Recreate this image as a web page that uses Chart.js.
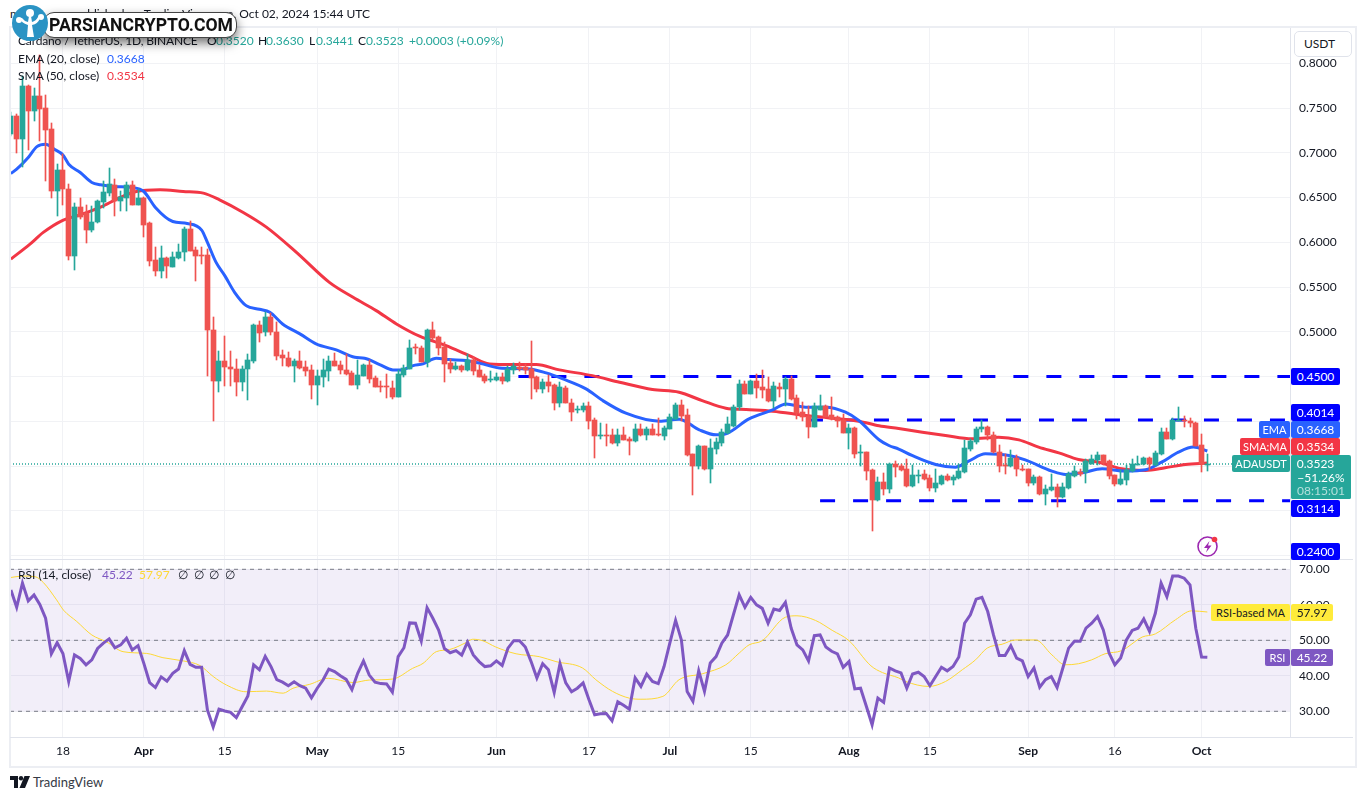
<!DOCTYPE html>
<html>
<head>
<meta charset="utf-8">
<title>ADAUSDT</title>
<script src="https://cdn.jsdelivr.net/npm/chart.js@4"></script>
<style>
  html, body { margin: 0; padding: 0; background: #fff; width: 1366px; height: 800px; overflow: hidden; }
  canvas { position: absolute; left: 10px; }
  #priceChart { top: 27px; }
  #rsiChart { top: 560px; }
  .t { position: absolute; white-space: nowrap; font: 12px/16px Lato, sans-serif; color: #131722; z-index: 3; }
  .box { position: absolute; text-align: center; white-space: nowrap; font: 12px/17px Lato, sans-serif; z-index: 4; }
  .line { position: absolute; background: #e0e3eb; z-index: 2; }
  #frame { position: absolute; left: 9px; top: 26px; width: 1344px; height: 738px; border: 2px solid #eceef3; z-index: 1; }
  #unit { position: absolute; left: 1294px; top: 31px; width: 56px; height: 24px; border: 1px solid #e0e3eb; border-radius: 5px;
          background: #fff; font: 12px/24px Lato, sans-serif; color: #131722; z-index: 4; text-indent: 9px; }
  #badge { position: absolute; left: 43px; top: 12px; width: 192px; height: 24px; border: 1px solid #444; border-radius: 11px;
           background: #fff; box-shadow: 0 5px 11px rgba(0,0,0,.55); z-index: 5;
           font: bold 17.6px/25px Roboto, sans-serif; color: #111; text-indent: 5px; overflow: hidden; }
  #badgeIcon { position: absolute; left: 11px; top: 4px; z-index: 6; }
  #spark { position: absolute; left: 1195px; top: 534px; z-index: 3; }
  #tvLogo { position: absolute; left: 10px; top: 776px; z-index: 3; }
</style>
</head>
<body>
<div id="frame"></div>
<canvas id="priceChart" width="1345" height="532"></canvas>
<canvas id="rsiChart" width="1345" height="205"></canvas>
<div id="unit">USDT</div>
<div id="badge">PARSIANCRYPTO.COM</div>
<svg id="badgeIcon" width="38" height="38" viewBox="0 0 38 38">
  <circle cx="19" cy="19" r="18" fill="#2a93c4"/>
  <path d="M16 33 L17 21 Q10 19 9 14 L11 14 Q13 17 17 18 L18 12 L20 12 L21 18 Q25 17 27 13 L29 14 Q27 20 21 21 L23 33 Z" fill="#fff"/>
  <circle cx="19" cy="9" r="4" fill="#fff"/><circle cx="8" cy="16" r="3" fill="#fff"/><circle cx="30" cy="13" r="3" fill="#fff"/>
</svg>
<svg id="spark" width="26" height="26" viewBox="0 0 26 26">
  <circle cx="12.5" cy="12.5" r="9.5" fill="none" stroke="#9c27b0" stroke-width="1.6"/>
  <path d="M14.5 7 L9 14 L12.5 14 L11 18.5 L16.5 11.5 L13 11.5 Z" fill="#9c27b0"/>
  <circle cx="19.5" cy="5.5" r="2.8" fill="#f23645"/>
</svg>
<svg id="tvLogo" width="22" height="13" viewBox="0 0 22 13">
  <path d="M0 0 H8 V12 H4 V4 H0 Z M14.5 0 H20 L15 12 H9.5 Z" fill="#131722"/><circle cx="11" cy="2.2" r="2.2" fill="#131722"/>
</svg>

<script>
  // Cardano / TetherUS daily bars, index 0 = Mar 9 2024, index 207 = Oct 2 2024
  const opens = [
    .7208,.7413,.7160,.7747,.7468,.7636,.7502,.7264,.6576,.6810,
    .6594,.5850,.6397,.6323,.6140,.6222,.6453,.6550,.6643,.6464,
    .6501,.6639,.6419,.6501,.6211,.5802,.5683,.5828,.5727,.5824,
    .5887,.6148,.5917,.5862,.5862,.5025,.4448,.4679,.4612,.4590,
    .4437,.4582,.4679,.5081,.4995,.5170,.5003,.4746,.4712,.4623,
    .4679,.4612,.4579,.4411,.4500,.4567,.4679,.4634,.4579,.4541,
    .4411,.4512,.4634,.4489,.4391,.4391,.4378,.4277,.4523,.4590,
    .4826,.4824,.4668,.5025,.4947,.4835,.4657,.4590,.4623,.4579,
    .4690,.4579,.4512,.4472,.4467,.4500,.4456,.4579,.4612,.4605,
    .4590,.4500,.4366,.4445,.4411,.4210,.4378,.4210,.4130,.4132,
    .4177,.4020,.3847,.3851,.3853,.3753,.3853,.3808,.3775,.3920,
    .3842,.3920,.3864,.3831,.3920,.4031,.4188,.4076,.3630,.3496,
    .3719,.3462,.3686,.3753,.3875,.3953,.4165,.4422,.4310,.4456,
    .4389,.4366,.4232,.4389,.4366,.4478,.4266,.4110,.4065,.3942,
    .4132,.4177,.4076,.4043,.4020,.3875,.3931,.3650,.3652,.3451,
    .3116,.3317,.3239,.3518,.3496,.3462,.3273,.3401,.3407,.3362,
    .3250,.3295,.3384,.3340,.3362,.3429,.3686,.3764,.3909,.3942,
    .3853,.3663,.3507,.3496,.3585,.3473,.3462,.3306,.3373,.3183,
    .3228,.3261,.3150,.3250,.3384,.3433,.3429,.3529,.3563,.3619,
    .3552,.3395,.3295,.3340,.3440,.3516,.3518,.3596,.3507,.3630,
    .3886,.3808,.4009,.4017,.4009,.3987,.3741,.3520
  ];
  const highs = [
    .7457,.7431,.7859,.7760,.7721,.8093,.7643,.7338,.6873,.6985,
    .6650,.6445,.6490,.6419,.6408,.6475,.6687,.6836,.6706,.6576,
    .6669,.6687,.6594,.6505,.6222,.5943,.5962,.5832,.5887,.5980,
    .6166,.6241,.5943,.5951,.5925,.5170,.4783,.4958,.4791,.4698,
    .4616,.4753,.5085,.5125,.5218,.5207,.5114,.4798,.4772,.4698,
    .4791,.4679,.4634,.4575,.4698,.4735,.4764,.4679,.4753,.4567,
    .4690,.4642,.4686,.4512,.4456,.4530,.4456,.4575,.4634,.4913,
    .4865,.4846,.5032,.5114,.4958,.4884,.4698,.4660,.4634,.4753,
    .4716,.4634,.4530,.4567,.4538,.4541,.4623,.4657,.4660,.4642,
    .4902,.4504,.4474,.4523,.4415,.4437,.4400,.4251,.4166,.4203,
    .4221,.4035,.3987,.3972,.3916,.3920,.3942,.3823,.3972,.3972,
    .3942,.3972,.4039,.3953,.4084,.4206,.4244,.4139,.3634,.3741,
    .3723,.3805,.3816,.3909,.4054,.4188,.4467,.4456,.4467,.4530,
    .4578,.4500,.4437,.4430,.4500,.4511,.4299,.4221,.4177,.4210,
    .4299,.4181,.4277,.4065,.4084,.3965,.3942,.3741,.3656,.3462,
    .3373,.3421,.3540,.3552,.3518,.3574,.3507,.3459,.3459,.3395,
    .3462,.3395,.3407,.3395,.3518,.3786,.3805,.3935,.4020,.3953,
    .3886,.3741,.3637,.3682,.3626,.3507,.3466,.3395,.3384,.3284,
    .3407,.3295,.3310,.3433,.3496,.3462,.3581,.3619,.3652,.3623,
    .3563,.3399,.3451,.3507,.3574,.3615,.3607,.3600,.3674,.3927,
    .3924,.4039,.4165,.4065,.4039,.3991,.3864,.3630
  ];
  const lows = [
    .7190,.7003,.6847,.7033,.7357,.7134,.6687,.6501,.6289,.6419,
    .5806,.5694,.6259,.5988,.6111,.6215,.6382,.6520,.6297,.6352,
    .6352,.6415,.6415,.6055,.5731,.5627,.5597,.5597,.5720,.5813,
    .5794,.5902,.5571,.5757,.4504,.4002,.4333,.4400,.4400,.4281,
    .4344,.4233,.4649,.4884,.4951,.4969,.4690,.4623,.4605,.4445,
    .4586,.4512,.4255,.4188,.4389,.4456,.4616,.4530,.4523,.4405,
    .4366,.4508,.4433,.4385,.4333,.4259,.4251,.4270,.4493,.4586,
    .4753,.4660,.4612,.4910,.4746,.4445,.4541,.4579,.4556,.4567,
    .4523,.4496,.4433,.4445,.4456,.4419,.4445,.4530,.4567,.4530,
    .4255,.4333,.4322,.4333,.4132,.4158,.4203,.4009,.4091,.4102,
    .3909,.3585,.3805,.3730,.3749,.3719,.3786,.3619,.3771,.3831,
    .3786,.3842,.3831,.3797,.3916,.4020,.4009,.3615,.3172,.3473,
    .3451,.3306,.3630,.3719,.3860,.3942,.4128,.4307,.4307,.4262,
    .4262,.4221,.4147,.4277,.4177,.4244,.4031,.4009,.3819,.3938,
    .4130,.4046,.4020,.3942,.3871,.3686,.3585,.3496,.3340,.2770,
    .3112,.3172,.3194,.3373,.3448,.3270,.3270,.3310,.3340,.3217,
    .3206,.3284,.3338,.3288,.3360,.3427,.3674,.3749,.3883,.3786,
    .3650,.3429,.3414,.3494,.3384,.3447,.3273,.3291,.3180,.3061,
    .3221,.3038,.3148,.3248,.3382,.3384,.3306,.3518,.3507,.3507,
    .3351,.3273,.3293,.3284,.3438,.3507,.3516,.3451,.3496,.3628,
    .3805,.3793,.4007,.3935,.3942,.3728,.3429,.3441
  ];
  const closes = [
    .7413,.7160,.7747,.7468,.7636,.7494,.7256,.6576,.6810,.6594,
    .5850,.6397,.6278,.6140,.6230,.6464,.6564,.6650,.6464,.6512,
    .6639,.6419,.6494,.6196,.5794,.5683,.5828,.5731,.5839,.5895,
    .6148,.5906,.5850,.5856,.5021,.4448,.4679,.4605,.4582,.4437,
    .4590,.4690,.5081,.4984,.5170,.4995,.4735,.4705,.4623,.4679,
    .4601,.4567,.4411,.4512,.4579,.4679,.4623,.4579,.4534,.4411,
    .4523,.4634,.4478,.4389,.4387,.4387,.4277,.4534,.4597,.4824,
    .4822,.4668,.5025,.4936,.4824,.4646,.4590,.4623,.4579,.4690,
    .4567,.4500,.4456,.4476,.4500,.4456,.4590,.4623,.4590,.4579,
    .4482,.4366,.4445,.4400,.4210,.4389,.4210,.4110,.4134,.4177,
    .4009,.3831,.3851,.3847,.3753,.3853,.3797,.3775,.3920,.3842,
    .3920,.3853,.3842,.3931,.4043,.4188,.4065,.3619,.3496,.3719,
    .3462,.3697,.3764,.3886,.3965,.4165,.4422,.4310,.4456,.4377,
    .4355,.4232,.4400,.4366,.4478,.4251,.4098,.4054,.3942,.4177,
    .4177,.4054,.4031,.4009,.3875,.3931,.3630,.3654,.3440,.3116,
    .3317,.3239,.3518,.3485,.3451,.3273,.3395,.3405,.3351,.3250,
    .3306,.3384,.3340,.3373,.3440,.3697,.3775,.3920,.3942,.3842,
    .3652,.3496,.3503,.3585,.3462,.3451,.3306,.3373,.3183,.3239,
    .3261,.3150,.3261,.3407,.3440,.3414,.3552,.3574,.3619,.3540,
    .3384,.3295,.3351,.3451,.3518,.3520,.3596,.3518,.3641,.3886,
    .3808,.4020,.4020,.4009,.3976,.3730,.3520,.3523
  ];

  const emaDays = [
    0,1,3,4.5,6,7.5,9,10,12,14,
    15.5,18,21,23,25,28,30.5,33,34,35.5,
    37,38.7,40.7,43,44.8,47,50,52.8,56.3,59.5,
    61.2,63.8,66.1,67.5,69.6,71.3,73.6,75.9,78.8,82.2,
    84.5,89.7,92.6,95.5,99.5,102.4,106.4,112.2,115.6,119.1,
    122,123.7,127.7,131.8,134.1,137.5,141,144.4,146.7,150.2,
    151.9,153.6,155.9,160,163.4,165.7,168.6,172.7,175.5,180.1,
    182.5,185.3,188.8,192.8,196.3,199.1,202,204.6,207
  ];
  const emaValues = [
    .6769,.6817,.6948,.7070,.7096,.7041,.6977,.6873,.6780,.6669,
    .6643,.6624,.6613,.6568,.6390,.6233,.6211,.6137,.5999,.5776,
    .5628,.5442,.5293,.5252,.5218,.5088,.4977,.4865,.4798,.4716,
    .4705,.4634,.4575,.4575,.4623,.4642,.4705,.4690,.4679,.4631,
    .4597,.4586,.4541,.4474,.4363,.4232,.4091,.4002,.4024,.3905,
    .3849,.3860,.4028,.4128,.4195,.4158,.4158,.4102,.4009,.3795,
    .3730,.3690,.3619,.3518,.3488,.3555,.3637,.3619,.3570,.3444,
    .3407,.3425,.3470,.3444,.3459,.3544,.3656,.3712,.3668
  ];
  const smaDays = [
    0,3.3,5.6,8.8,12,15.4,18.9,21.7,25.8,29.8,
    33.3,36.1,40.2,44.2,49.4,55.1,59.2,63.2,66.7,70.7,
    75.3,79.3,82.8,86.8,90.9,94.9,100.6,105.3,111,115.6,
    119.6,123.7,127.2,131.8,137.5,142.1,146.7,150.2,153.6,157.7,
    161.7,166.3,170.9,174.4,177.8,181.3,184.7,188.2,192.2,196.3,
    199.7,203.2,207
  ];
  const smaValues = [
    .5813,.5980,.6111,.6241,.6308,.6390,.6501,.6568,.6587,.6568,
    .6550,.6475,.6334,.6170,.5888,.5553,.5386,.5237,.5088,.4951,
    .4846,.4735,.4642,.4634,.4634,.4575,.4511,.4437,.4355,.4325,
    .4232,.4147,.4132,.4113,.4065,.4035,.4002,.3950,.3920,.3879,
    .3842,.3805,.3823,.3793,.3712,.3648,.3574,.3544,.3470,.3451,
    .3481,.3518,.3534
  ];

  // RSI (14), one value per bar
  const rsiValues = [
    64.2,59.3,66.1,61.1,62.8,60.1,56.2,46.2,49.3,46.3,
    38.4,45.9,44.9,43.1,44.5,47.7,49.2,50.4,47.9,48.7,
    50.6,47.3,48.5,43.5,38.1,36.7,39.7,38.5,40.7,41.9,
    47.1,43.2,42.4,42.4,30.4,25.6,30.6,30.1,29.7,28.2,
    31.3,34.3,43.1,41.7,45.5,42.6,38.9,38.2,37.2,38.3,
    37.2,36.5,33.8,36.5,38.8,41.9,41.2,40.0,39.0,36.1,
    40.7,44.2,40.2,38.2,37.8,37.7,35.4,45.4,47.9,54.9,
    54.8,49.8,59.2,56.2,52.9,47.7,46.5,47.1,45.8,49.5,
    45.9,44.0,42.6,42.8,44.2,42.9,47.8,49.9,49.9,48.1,
    44.0,39.4,43.4,41.7,35.3,43.4,38.0,35.5,36.5,38.0,
    33.3,29.0,29.3,29.4,27.3,32.7,31.7,30.6,39.4,37.0,
    40.5,38.4,37.8,42.6,49.2,55.6,50.1,35.6,32.8,41.4,
    35.6,43.6,45.4,49.2,51.5,57.2,62.8,59.3,62.1,60.0,
    59.0,54.8,58.8,58.4,60.7,53.4,48.7,47.3,44.2,51.3,
    51.5,48.1,46.9,46.2,42.4,44.0,36.3,36.5,31.4,26.2,
    33.7,32.5,42.2,41.4,40.8,36.5,40.5,41.0,39.8,37.2,
    39.8,42.4,41.4,42.6,45.3,54.8,57.2,61.6,62.1,58.1,
    51.5,45.7,45.7,48.5,45.0,44.2,39.8,42.2,36.8,38.9,
    39.8,36.7,42.2,47.8,49.7,49.7,53.4,54.8,56.7,52.9,
    46.4,43.1,45.0,50.1,52.8,53.4,56.0,52.5,57.6,66.1,
    62.3,68.1,68.1,67.5,65.6,53.4,45.3,45.22
  ];
  const rsiMaDays = [
    0,2.1,4.2,5.6,7.9,9.1,11.4,14,16.5,19.4,
    23.5,26.3,29.8,32.7,35,37.3,40.7,44.2,47.1,48.8,
    51.7,54.9,59.2,62,66.1,69.5,71.3,73.6,75.9,78.8,
    79.9,81.6,83.9,87.4,91.4,94.3,98.9,101.2,104.1,107,
    109,112.8,115.6,119.7,123.7,126,127.7,130,134,136,
    139.2,142.1,145,148.8,150.8,153.6,154.8,158.8,161.7,164.6,
    166.9,168.9,171.5,173.8,177.3,180.1,182.4,184.7,187,189.3,
    192.2,195.7,198,201.5,204.3,207
  ];
  const rsiMaValues = [
    67.7,68.1,67.9,66.3,61.4,58.5,55.3,51.5,49.6,46.8,
    46.3,45.1,44.2,42.9,39.8,37.4,35.5,35.7,35.1,36.5,
    37.6,39.3,38.1,38.8,39.1,42.1,43.5,46.8,47.4,49.4,
    50.3,49.9,48.1,46.2,45.4,44.0,42.2,38.9,35.6,33.7,
    33.4,34.2,38.9,40.6,43.1,46.4,48.7,49.9,56.5,56.9,
    55.6,52.8,49.9,42.8,40.9,39.4,38.4,37.0,38.4,41.7,
    44.5,47.8,48.9,50.1,50.1,45.9,43.1,43.4,44.5,46.2,
    47.1,50.9,51.8,55.8,58.3,57.97
  ];

  // support / resistance levels and the day each drawing starts
  const levelValues = [.45, .4014, .3114];
  const levelStarts = [87.8, 137.9, 140];
  const lastClose = .3523;

  const priceTicks = [.8, .75, .7, .65, .6, .55, .5, .45, .4, .35, .3, .25];
  const rsiTicks = [30, 40, 50, 60, 70];
  const rsiLevels = [70, 50, 30];
  const tickDays = [9, 23, 37, 53, 67, 84, 100, 114, 128, 145, 159, 176, 191, 206];
  const tickLabels = ["18", "Apr", "15", "May", "15", "Jun", "17", "Jul", "15", "Aug", "15", "Sep", "16", "Oct"];

  const GREEN = "#26a69a";
  const RED = "#ef5350";
  const GRID = "#f1f2f5";
  const AXIS = "#e0e3eb";
  const FONT = "Lato, sans-serif";

  // 1280px wide plot at 5.78px per day, bar 0 sits 0.9px in from the left
  const xMin = -0.156;
  const xMax = 221.3;

  const candleColors = opens.map((o, i) => (closes[i] >= o ? GREEN : RED));
  const series = (days, values) => values.map((y, i) => ({ x: days[i], y }));
  const flat = (from, y) => [{ x: from, y }, { x: xMax, y }];

  // TradingView snaps candles to whole pixels
  const snapCandles = {
    id: "snapCandles",
    beforeDatasetsDraw(chart) {
      chart.data.datasets.forEach((ds, di) => {
        if (ds.type !== "bar") return;
        chart.getDatasetMeta(di).data.forEach(el => {
          el.x = Math.floor(el.x) + 0.5;
          const top = Math.round(Math.min(el.y, el.base));
          let bottom = Math.round(Math.max(el.y, el.base));
          if (bottom <= top) bottom = top + 1;
          el.y = top;
          el.base = bottom;
        });
      });
    }
  };

  const noPadding = axis => {
    axis.paddingLeft = axis.paddingRight = axis.paddingTop = axis.paddingBottom = 0;
  };

  const xScale = extra => Object.assign({
    type: "linear",
    min: xMin,
    max: xMax,
    offset: false,
    border: { display: false },
    grid: { color: GRID, drawTicks: false, offset: false },
    afterBuildTicks: axis => { axis.ticks = tickDays.map(value => ({ value })); },
    afterFit: noPadding
  }, extra);

  const yScale = (min, max, ticks, digits) => ({
    position: "right",
    min,
    max,
    border: { display: true, color: AXIS },
    grid: { color: GRID, drawTicks: false },
    afterBuildTicks: axis => { axis.ticks = ticks.map(value => ({ value })); },
    afterFit: axis => { axis.width = 65; noPadding(axis); },
    ticks: {
      color: "#131722",
      padding: 9,
      font: { family: FONT, size: 12 },
      callback: v => v.toFixed(digits)
    }
  });

  const lineSet = (data, color, width, order, extra) => Object.assign({
    type: "line",
    data,
    borderColor: color,
    borderWidth: width,
    pointRadius: 0,
    order
  }, extra);

  new Chart(document.getElementById("priceChart").getContext("2d"), {
    data: {
      datasets: [
        {
          type: "bar",
          data: opens.map((o, i) => ({ x: i, y: [o, closes[i]] })),
          backgroundColor: candleColors,
          barThickness: 5,
          grouped: false,
          order: 0
        },
        {
          type: "bar",
          data: opens.map((o, i) => ({ x: i, y: [lows[i], highs[i]] })),
          backgroundColor: candleColors,
          barThickness: 1,
          grouped: false,
          order: 1
        },
        lineSet(series(emaDays, emaValues), "#2962ff", 3, 2, { cubicInterpolationMode: "monotone" }),
        lineSet(series(smaDays, smaValues), "#f23645", 3, 3, { cubicInterpolationMode: "monotone" }),
        ...levelValues.map((v, i) =>
          lineSet(flat(levelStarts[i], v), "#0000ff", 3, 4, { borderDash: [15, 18] })),
        lineSet(flat(xMin, lastClose), GREEN, 1.5, 5, { borderDash: [1, 2] })
      ]
    },
    plugins: [snapCandles],
    options: {
      responsive: false,
      animation: false,
      layout: { padding: 0 },
      plugins: { legend: { display: false }, tooltip: { enabled: false } },
      scales: {
        x: xScale({ ticks: { display: false } }),
        y: yScale(.2462, .8406, priceTicks, 4)
      }
    }
  });

  new Chart(document.getElementById("rsiChart").getContext("2d"), {
    data: {
      datasets: [
        lineSet(series(rsiValues.map((v, i) => i), rsiValues), "#7e57c2", 3, 0),
        lineSet(series(rsiMaDays, rsiMaValues), "#fdd835", 1, 1, { cubicInterpolationMode: "monotone" }),
        ...rsiLevels.map(v =>
          lineSet(flat(xMin, v), "#787b86", 1, 2, { borderDash: [4, 4] })),
        lineSet(flat(xMin, rsiLevels[0]), "transparent", 0, 3, {
          fill: { value: rsiLevels[2] },
          backgroundColor: "rgba(126,87,194,0.1)"
        })
      ]
    },
    options: {
      responsive: false,
      animation: false,
      layout: { padding: 0 },
      plugins: { legend: { display: false }, tooltip: { enabled: false } },
      scales: {
        x: xScale({
          border: { display: true, color: AXIS },
          afterFit: axis => { axis.height = 28; noPadding(axis); },
          ticks: {
            color: "#131722",
            padding: 7,
            autoSkip: false,
            maxRotation: 0,
            font: ctx => ({ family: FONT, size: 12, weight: /[a-z]/.test(tickLabels[ctx.index] || "") ? "bold" : "normal" }),
            callback: (v, i) => tickLabels[i]
          }
        }),
        y: yScale(22.76, 72.62, rsiTicks, 2)
      }
    }
  });

  // text and labels on top of the canvases
  function addText(x, y, str, color) {
    const el = document.createElement("div");
    el.className = "t";
    el.textContent = str;
    el.style.left = x + "px";
    el.style.top = (y - 8) + "px";
    if (color) el.style.color = color;
    document.body.appendChild(el);
    return el;
  }

  function addBox(left, top, width, height, str, bg, fg) {
    const el = document.createElement("div");
    el.className = "box";
    el.textContent = str;
    el.style.cssText += `left:${left}px;top:${top}px;width:${width}px;height:${height}px;background:${bg};color:${fg};`;
    el.style.borderRadius = "2px";
    // name labels left of the axis run a little narrower than the values
    if (left < 1291) el.style.fontSize = "11px";
    document.body.appendChild(el);
  }

  const up = "#26a69a";
  addText(10, 14, "m");
  const stamp = addText(0, 14, "published on TradingView.com, Oct 02, 2024 15:44 UTC");
  stamp.style.left = "auto";
  stamp.style.right = (1366 - 370) + "px";
  addText(18, 41, "Cardano / TetherUS, 1D, BINANCE").style.letterSpacing = "-0.15px";
  addText(207, 41, "O"); addText(216, 41, "0.3520", up);
  addText(258, 41, "H"); addText(266, 41, "0.3630", up);
  addText(309, 41, "L"); addText(316, 41, "0.3441", up);
  addText(358, 41, "C"); addText(366, 41, "0.3523", up);
  addText(409, 41, "+0.0003 (+0.09%)", up);
  addText(18, 59, "EMA (20, close)"); addText(107, 59, "0.3668", "#2962ff");
  addText(18, 76, "SMA (50, close)"); addText(107, 76, "0.3534", "#f23645");
  addText(18, 575, "RSI (14, close)");
  addText(102, 575, "45.22", "#7e57c2");
  addText(139, 575, "57.97", "#fdd835");
  addText(178, 575, "∅"); addText(194, 575, "∅"); addText(209, 575, "∅"); addText(225, 575, "∅");
  addText(33, 782, "TradingView", "#363a45").style.fontSize = "13px";

  const blue = "#0000ff";
  addBox(1291, 368, 49, 17, "0.4500", blue, "#fff");
  addBox(1291, 404, 49, 17, "0.4014", blue, "#fff");
  addBox(1259, 421, 31, 17, "EMA", "#2962ff", "#fff");
  addBox(1291, 421, 49, 17, "0.3668", "#2962ff", "#fff");
  addBox(1240, 438, 50, 17, "SMA:MA", "#f23645", "#fff");
  addBox(1291, 438, 49, 17, "0.3534", "#f23645", "#fff");
  addBox(1232, 455, 58, 17, "ADAUSDT", up, "#fff");
  addBox(1291, 455, 60, 44, "", up, "#fff");
  addBox(1291, 455, 49, 17, "0.3523", up, "#fff");
  addBox(1291, 469, 60, 17, "−51.26%", up, "#fff");
  addBox(1291, 482, 60, 17, "08:15:01", up, "rgba(255,255,255,.65)");
  addBox(1291, 500, 49, 17, "0.3114", blue, "#fff");
  addBox(1291, 543, 49, 17, "0.2400", blue, "#fff");
  addBox(1211, 604, 79, 17, "RSI-based MA", "#ffeb3b", "#131722");
  addBox(1291, 604, 42, 17, "57.97", "#ffeb3b", "#131722");
  addBox(1265, 649, 25, 17, "RSI", "#7e57c2", "#fff");
  addBox(1291, 649, 42, 17, "45.22", "#7e57c2", "#fff");

  [[10, 559, 1343, 1], [10, 737, 1343, 1]].forEach(([l, t, w, h]) => {
    const el = document.createElement("div");
    el.className = "line";
    el.style.cssText += `left:${l}px;top:${t}px;width:${w}px;height:${h}px;`;
    document.body.appendChild(el);
  });
</script>
</body>
</html>
